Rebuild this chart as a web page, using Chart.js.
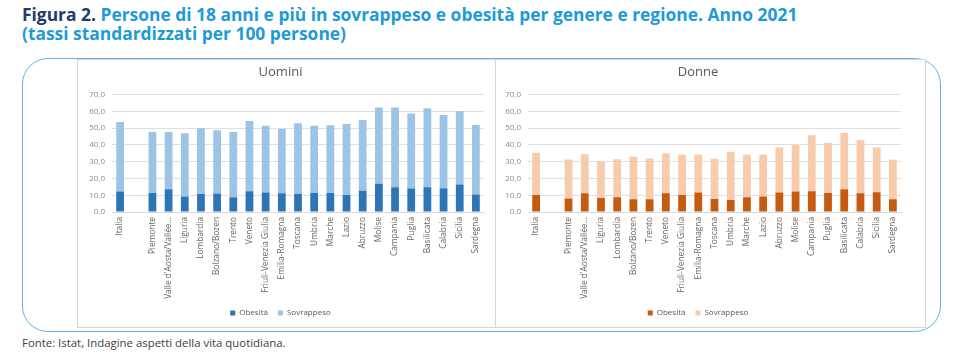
<!DOCTYPE html>
<html>
<head>
<meta charset="utf-8">
<script src="https://cdn.jsdelivr.net/npm/chart.js@4"></script>
<style>
  html, body { margin: 0; padding: 0; background: #ffffff; }
  body { width: 954px; height: 356px; position: relative; overflow: hidden; font-family: 'Open Sans', sans-serif; }
  #hdr { position: absolute; left: 22px; top: 5px; font-weight: 700; font-size: 17.4px; line-height: 19px; color: #1e9bd7; white-space: nowrap; }
  #hdr .fig { color: #243b6e; }
  #box { position: absolute; left: 22px; top: 58px; width: 919px; height: 274px; box-sizing: border-box; border: 1.5px solid #63b6e6; border-radius: 26px; }
  .panel { position: absolute; box-sizing: border-box; border: 1px solid #d6d6d6; background: #ffffff; }
  canvas { position: absolute; }
  #foot { position: absolute; left: 22px; top: 335px; font-size: 11.4px; color: #404040; white-space: nowrap; }
</style>
</head>
<body>
<div id="hdr"><span class="fig">Figura 2.</span> Persone di 18 anni e più in sovrappeso e obesità per genere e regione. Anno 2021<br>(tassi standardizzati per 100 persone)</div>
<div id="box"></div>
<div class="panel" style="left:77px;top:59px;width:419px;height:269px;"></div>
<div class="panel" style="left:495px;top:59px;width:431px;height:269px;"></div>
<canvas id="cU" width="418" height="268" style="left:77px;top:59px;"></canvas>
<canvas id="cD" width="430" height="268" style="left:495px;top:59px;"></canvas>
<div id="foot">Fonte: Istat, Indagine aspetti della vita quotidiana.</div>
<script>
const regioni = ["Italia", "", "Piemonte", "Valle d'Aosta/Vallée...", "Liguria", "Lombardia", "Bolzano/Bozen", "Trento", "Veneto", "Friuli-Venezia Giulia", "Emilia-Romagna", "Toscana", "Umbria", "Marche", "Lazio", "Abruzzo", "Molise", "Campania", "Puglia", "Basilicata", "Calabria", "Sicilia", "Sardegna"];

const uominiObesita    = [12.2, null, 11.4, 13.6, 9.2, 10.8, 11.0, 8.8, 12.4, 11.6, 11.2, 10.8, 11.4, 11.4, 10.2, 12.6, 16.8, 14.8, 14.0, 14.8, 14.2, 16.4, 10.4];
const uominiSovrappeso = [41.5, null, 36.3, 34.1, 37.7, 39.1, 37.7, 38.9, 41.9, 39.9, 38.3, 42.1, 40.1, 40.3, 42.3, 42.3, 45.5, 47.5, 44.7, 47.1, 43.7, 43.7, 41.5];

const donneObesita    = [10.2, null, 8.0, 11.2, 8.4, 8.8, 7.6, 7.6, 11.2, 10.2, 11.6, 7.8, 7.2, 8.8, 9.2, 11.6, 12.2, 12.4, 11.4, 13.6, 11.2, 11.8, 7.6];
const donneSovrappeso = [25.1, null, 23.3, 23.3, 21.7, 22.7, 25.3, 24.3, 23.9, 23.9, 22.5, 23.9, 28.7, 25.3, 24.9, 26.9, 27.7, 33.3, 29.7, 33.7, 31.7, 26.7, 23.5];

const serieNomi = ["Obesità", "Sovrappeso"];
const yTicksMax = 70;

Chart.defaults.font.family = "'Open Sans', sans-serif";
Chart.defaults.animation = false;

function makeChart(id, titolo, obes, sovr, colO, colS, plotLeft, padRight) {
  return new Chart(document.getElementById(id), {
    type: 'bar',
    data: {
      labels: regioni,
      datasets: [
        { label: serieNomi[0], data: obes, backgroundColor: colO, borderWidth: 0, categoryPercentage: 1, barPercentage: 0.48 },
        { label: serieNomi[1], data: sovr, backgroundColor: colS, borderWidth: 0, categoryPercentage: 1, barPercentage: 0.48 }
      ]
    },
    options: {
      responsive: false,
      devicePixelRatio: 1,
      layout: { padding: { left: 0, right: padRight, top: 0, bottom: 0 } },
      plugins: {
        title: { display: true, text: titolo, color: '#595959', font: { size: 13, weight: 'normal' }, padding: { top: 5, bottom: 15 } },
        legend: { position: 'bottom', labels: { boxWidth: 5, boxHeight: 5, color: '#595959', font: { size: 8 }, padding: 10 } },
        tooltip: { enabled: false }
      },
      scales: {
        x: {
          stacked: true,
          grid: { display: false, drawTicks: false },
          border: { display: true, color: '#d9d9d9' },
          ticks: { autoSkip: false, minRotation: 90, maxRotation: 90, color: '#666666', font: { size: 8.3 }, padding: 5 },
          afterFit: (s) => { s.height = 87; }
        },
        y: {
          stacked: true,
          min: 0, max: yTicksMax,
          ticks: { stepSize: 10, color: '#8c8c8c', font: { size: 8 }, padding: 7,
                   callback: (v) => v.toFixed(1).replace('.', ',') },
          grid: { color: '#e0e0e0', drawTicks: false },
          border: { display: false },
          afterFit: (s) => { s.width = plotLeft; }
        }
      }
    }
  });
}

makeChart('cU', 'Uomini', uominiObesita, uominiSovrappeso, '#2e75b6', '#9dc3e6', 35, 11);
makeChart('cD', 'Donne', donneObesita, donneSovrappeso, '#c55a11', '#f8cbad', 33, 24);
</script>
</body>
</html>
